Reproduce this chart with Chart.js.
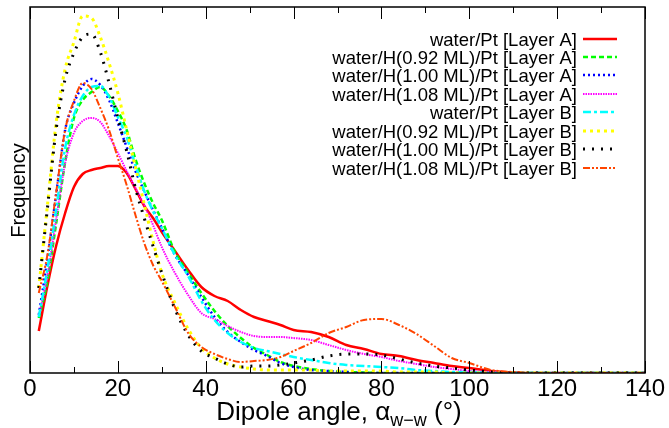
<!DOCTYPE html>
<html lang="en">
<head>
  <meta charset="UTF-8">
  <title>Dipole angle distribution</title>
  <script src="https://cdn.jsdelivr.net/npm/chart.js@4.4.0/dist/chart.umd.min.js"></script>
  <style>
    html, body { margin: 0; padding: 0; background: #fff; }
    #wrap { width: 669px; height: 428px; }
  </style>
</head>
<body>
<div id="wrap"><canvas id="chart" width="669" height="428"></canvas></div>

<script>
// angle (deg) -> frequency (arbitrary units)
const angles = [2, 4, 6, 8, 10, 12, 14, 16, 18, 20, 22, 24, 26, 28, 30, 33, 36, 39, 42, 45,
                48, 51, 54, 57, 60, 64, 68, 72, 76, 80, 84, 88, 92, 96, 100, 105, 110, 115, 120, 130, 140];

const ptA   = [42, 88, 128, 160, 186, 199, 203, 205, 207, 207, 200, 184, 167, 155, 141, 122, 103, 86, 77, 72,
               63, 56, 52, 48, 43, 41, 36, 28, 24, 19, 17, 13, 10, 7, 5, 2, 0.5, 0, 0, 0, 0];
const h092A = [55, 93, 151, 211, 255, 273, 281, 286, 277, 262, 243, 214, 190, 170, 153, 121, 100, 80, 62, 47,
               35, 25, 18, 11, 7, 4, 2, 1, 0.5, 0, 0, 0, 0, 0, 0, 0, 0, 0, 0, 0, 0];
const h100A = [58, 115, 180, 243, 270, 287, 294, 288, 273, 250, 226, 202, 182, 163, 145, 118, 98, 76, 56, 41,
               31, 23, 17, 10, 6, 3, 2, 1, 0, 0, 0, 0, 0, 0, 0, 0, 0, 0, 0, 0, 0];
const h108A = [57, 98, 155, 210, 240, 252, 255, 251, 237, 220, 202, 185, 168, 148, 126, 100, 78, 60, 54, 47,
               41, 37, 36, 36, 35, 33, 28, 23, 19, 16, 12, 9, 6, 4, 2, 1, 0, 0, 0, 0, 0];
const ptB   = [56, 105, 165, 225, 258, 277, 286, 287, 276, 256, 236, 208, 182, 162, 145, 118, 97, 72, 53, 40,
               31, 25, 22, 19, 16, 13, 10, 8, 7, 6, 5, 3, 2, 1, 1, 0, 0, 0, 0, 0, 0];
const h092B = [85, 169, 252, 304, 331, 357, 355, 336, 310, 280, 243, 206, 169, 132, 100, 70, 44, 25, 15, 9,
               6, 4, 3, 3, 3, 3, 2, 2, 2, 2, 1, 1, 1, 0, 0, 0, 0, 0, 0, 0, 0];
const h100B = [85, 166, 245, 294, 320, 336, 339, 321, 290, 255, 222, 185, 155, 127, 100, 64, 38, 22, 15, 9,
               6, 7, 7, 8, 10, 13, 17, 19, 19, 18, 14, 10, 7, 5, 3, 1, 0, 0, 0, 0, 0];
const h108B = [80, 119, 182, 243, 272, 290, 284, 265, 243, 215, 188, 158, 130, 108, 92, 66, 40, 26, 19, 14,
               11, 12, 13, 16, 22, 30, 40, 46, 53, 54, 48, 39, 27, 15, 10, 3, 1, 0, 0, 0, 0];

const labels = [
  'water/Pt [Layer A]', 'water/H(0.92 ML)/Pt [Layer A]', 'water/H(1.00 ML)/Pt [Layer A]', 'water/H(1.08 ML)/Pt [Layer A]',
  'water/Pt [Layer B]', 'water/H(0.92 ML)/Pt [Layer B]', 'water/H(1.00 ML)/Pt [Layer B]', 'water/H(1.08 ML)/Pt [Layer B]'
];
const series = [ptA, h092A, h100A, h108A, ptB, h092B, h100B, h108B];
const colors = ['#ff0000', '#00ff00', '#0000ff', '#ff00ff', '#00ffff', '#ffff00', '#000000', '#ff4500'];
const dashes = [[], [5, 3], [2, 3], [1.5, 1], [8, 3, 3, 3], [3, 4], [2, 7], [7, 2, 2, 2, 2, 2]];
const widths = [2.5, 2.5, 2.5, 2, 2.5, 3, 3, 2];
const xTicks = [0, 20, 40, 60, 80, 100, 120, 140];

const font = '"Liberation Sans", Arial, sans-serif';

const datasets = series.map((s, i) => ({
  label: labels[i],
  data: s.map((v, j) => ({ x: angles[j], y: v })),
  borderColor: colors[i],
  borderDash: dashes[i],
  borderWidth: widths[i],
  pointRadius: 0,
  fill: false,
  cubicInterpolationMode: 'monotone',
  order: series.length - i
}));

// box, inward ticks, own legend and axis titles
const frame = {
  id: 'frame',
  afterDraw(chart) {
    const ctx = chart.ctx;
    const a = chart.chartArea;
    const x = chart.scales.x;
    ctx.save();
    ctx.strokeStyle = '#000';
    ctx.lineWidth = 1;
    for (let v = 0; v <= 140; v += 10) {
      const px = Math.round(x.getPixelForValue(v)) + 0.5;
      const len = xTicks.includes(v) ? 12 : 6;
      ctx.beginPath();
      ctx.moveTo(px, a.bottom); ctx.lineTo(px, a.bottom - len);
      ctx.moveTo(px, a.top); ctx.lineTo(px, a.top + len);
      ctx.stroke();
    }
    ctx.lineWidth = 1.5;
    ctx.strokeRect(a.left, a.top, a.right - a.left, a.bottom - a.top);

    // legend
    ctx.font = '18.5px ' + font;
    ctx.textAlign = 'right';
    ctx.textBaseline = 'alphabetic';
    for (let i = 0; i < labels.length; i++) {
      const y = Math.round(38.5 + i * 18.48);
      ctx.fillStyle = '#000';
      ctx.fillText(labels[i], 577, y + 7);
      ctx.beginPath();
      ctx.strokeStyle = colors[i];
      ctx.lineWidth = widths[i];
      ctx.setLineDash(dashes[i]);
      ctx.moveTo(583, y); ctx.lineTo(617, y);
      ctx.stroke();
    }
    ctx.setLineDash([]);

    // y title
    ctx.fillStyle = '#000';
    ctx.save();
    ctx.translate(25, 190.5);
    ctx.rotate(-Math.PI / 2);
    ctx.textAlign = 'center';
    ctx.font = '20px ' + font;
    ctx.fillText('Frequency', 0, 0);
    ctx.restore();

    // x title with subscript
    const main = 'Dipole angle, \u03b1', sub = 'w\u2212w', tail = ' (\u00b0)';
    ctx.textAlign = 'left';
    ctx.font = '26px ' + font;
    const w1 = ctx.measureText(main).width, w3 = ctx.measureText(tail).width;
    ctx.font = '18px ' + font;
    const w2 = ctx.measureText(sub).width;
    let cx = 339 - (w1 + w2 + w3) / 2;
    const base = 420;
    ctx.font = '26px ' + font;
    ctx.fillText(main, cx, base); cx += w1;
    ctx.font = '18px ' + font;
    ctx.fillText(sub, cx, base + 6); cx += w2;
    ctx.font = '26px ' + font;
    ctx.fillText(tail, cx, base);
    ctx.restore();
  }
};

new Chart(document.getElementById('chart'), {
  type: 'line',
  data: { datasets: datasets },
  options: {
    responsive: false,
    animation: false,
    events: [],
    layout: { padding: { left: 30, top: 7, right: 24, bottom: 0 } },
    plugins: { legend: { display: false }, tooltip: { enabled: false } },
    scales: {
      x: {
        type: 'linear',
        min: 0,
        max: 140,
        afterFit: (s) => { s.height = 55; },
        afterBuildTicks: (s) => { s.ticks = xTicks.map(v => ({ value: v })); },
        grid: { display: false, drawTicks: false },
        border: { display: false },
        ticks: { color: '#000', padding: 2, maxRotation: 0, font: { family: font, size: 24 } }
      },
      y: {
        display: false,
        min: 0,
        max: 366
      }
    }
  },
  plugins: [frame]
});
</script>
</body>
</html>
